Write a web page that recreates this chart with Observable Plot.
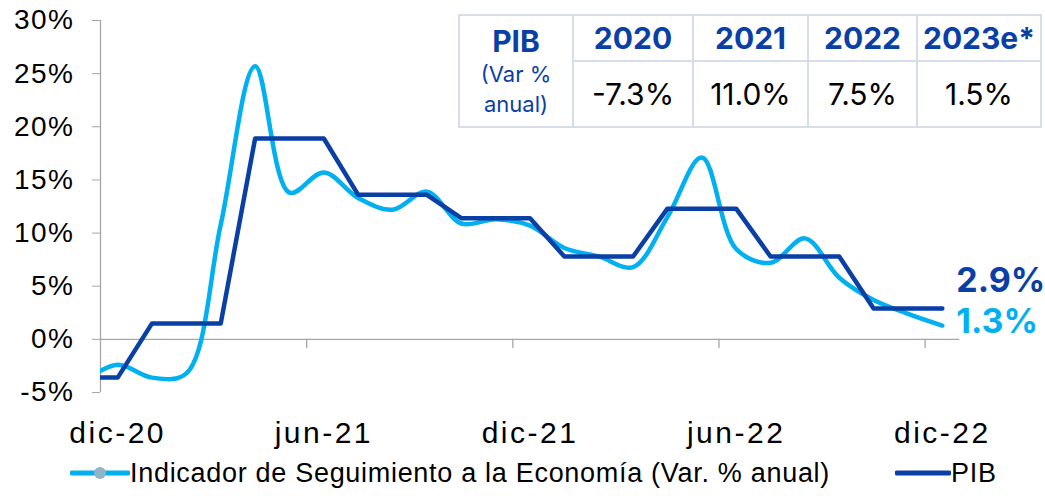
<!DOCTYPE html>
<html>
<head>
<meta charset="utf-8">
<script src="https://cdn.jsdelivr.net/npm/d3@7"></script>
<script src="https://cdn.jsdelivr.net/npm/@observablehq/plot@0.6"></script>
<style>
  html, body { margin: 0; padding: 0; background: #fff; }
  #wrap { position: relative; width: 1045px; height: 496px; overflow: hidden; font-family: "Liberation Sans", Arial, sans-serif; }
  #chart { position: absolute; left: 0; top: 0; }
  #chart g[aria-label="y-axis tick label"] text { letter-spacing: 1.5px; }
  #chart g[aria-label="x-axis tick label"] text { letter-spacing: 2.5px; }
  #tbl { position: absolute; left: 458px; top: 14px; border-collapse: collapse; font-family: Inter, "Noto Sans", sans-serif; background: #fff; }
  #tbl td { border: 2px solid #d6dde8; text-align: center; padding: 0; }
  #legend { position: absolute; left: 0; top: 450px; width: 1045px; height: 46px; font-family: "Liberation Sans", Arial, sans-serif; font-size: 27px; letter-spacing: 0.7px; color: #000; }
  .lg { position: absolute; top: 0; height: 46px; display: flex; align-items: center; white-space: nowrap; }
</style>
</head>
<body>
<div id="wrap">
  <div id="chart"></div>
  <div id="table-holder"></div>
  <div id="legend"></div>
</div>
<script>
// Months (index -1 = nov-20, clipped before the axis start)
const months = ["nov-20","dic-20","ene-21","feb-21","mar-21","abr-21","may-21","jun-21","jul-21","ago-21","sep-21","oct-21","nov-21","dic-21",
                "ene-22","feb-22","mar-22","abr-22","may-22","jun-22","jul-22","ago-22","sep-22","oct-22","nov-22","dic-22"];
// Indicador de Seguimiento a la Economía (Var. % anual)
const ise = [-3.9, -2.4, -3.6, -3.2, 10.8, 25.7, 13.8, 15.7, 13.3, 12.2, 13.9, 10.9, 11.3, 10.7,
             8.6, 7.8, 6.8, 11.5, 17.1, 8.5, 7.2, 9.5, 5.8, 3.7, 2.4, 1.3];
// PIB (quarterly value repeated per month)
const pib = [-3.6, -3.6, 1.5, 1.5, 1.5, 18.9, 18.9, 18.9, 13.6, 13.6, 13.6, 11.4, 11.4, 11.4,
             7.8, 7.8, 7.8, 12.3, 12.3, 12.3, 7.8, 7.8, 7.8, 2.9, 2.9, 2.9];
const xTickLabels = ["dic-20","jun-21","dic-21","jun-22","dic-22"];
const yTicks = [-5, 0, 5, 10, 15, 20, 25, 30];
// Table
const tableYears = ["2020","2021","2022","2023e*"];
const tableValues = ["-7.3%","11.0%","7.5%","1.5%"];

const LIGHT = "#00b0f0";
const DARK = "#0a3fa6";
const AXIS = "#a6a6a6";

const rows = months.map((m, k) => ({i: k - 1, m, ise: ise[k], pib: pib[k]}));
const labelIdx = xTickLabels.map(l => months.indexOf(l) - 1);
const tickPos = labelIdx.map(i => i - 0.5);
const last = rows[rows.length - 1];

const plot = Plot.plot({
  width: 1045,
  height: 450,
  marginLeft: 100,
  marginRight: 86,
  marginTop: 20,
  marginBottom: 58,
  x: {type: "linear", domain: [-0.5, 24.5], axis: null},
  y: {domain: [-5, 30], axis: null},
  style: {fontFamily: "'Liberation Sans', Arial, sans-serif", fontSize: "28px", background: "white", color: "#000"},
  marks: [
    Plot.ruleY([0], {stroke: AXIS, strokeWidth: 1.3}),
    Plot.ruleX([-0.5], {y1: -5, y2: 30, stroke: AXIS, strokeWidth: 1.3}),
    Plot.ruleX(tickPos.slice(1), {y1: 0, y2: -0.85, stroke: AXIS, strokeWidth: 1.3}),
    Plot.axisY({ticks: yTicks, tickSize: 8, tickPadding: 18, tickFormat: d => d + "%", stroke: AXIS, fill: "#000", fontSize: 28, label: null}),
    Plot.axisX({ticks: labelIdx, tickSize: 0, tickPadding: 29, tickFormat: i => months[i + 1], fill: "#000", fontSize: 30, label: null}),
    Plot.line(rows, {x: "i", y: "ise", curve: "catmull-rom", stroke: LIGHT, strokeWidth: 4.5, clip: true}),
    Plot.line(rows, {x: "i", y: "pib", stroke: DARK, strokeWidth: 4.5, clip: true}),
    Plot.text([last], {x: "i", y: "pib", text: d => d.pib.toFixed(1) + "%", dx: 14, dy: -27, textAnchor: "start",
      fill: DARK, fontWeight: "bold", fontSize: 34, fontFamily: "Inter, 'Noto Sans', sans-serif"}),
    Plot.text([last], {x: "i", y: "ise", text: d => d.ise.toFixed(1) + "%", dx: 14, dy: -3, textAnchor: "start",
      fill: LIGHT, fontWeight: "bold", fontSize: 34, fontFamily: "Inter, 'Noto Sans', sans-serif"})
  ]
});
document.getElementById("chart").appendChild(plot);

// Table overlay
const colW = [112, 118, 113, 107, 122];
const t = document.createElement("table");
t.id = "tbl";
const r1 = document.createElement("tr");
r1.style.height = "46px";
const c0 = document.createElement("td");
c0.rowSpan = 2;
c0.style.width = colW[0] + "px";
c0.style.color = DARK;
c0.innerHTML = '<div style="font-weight:700;font-size:30px;line-height:36px">PIB</div>' +
  '<div style="font-size:22px;line-height:30px">(Var %</div>' +
  '<div style="font-size:22px;line-height:30px">anual)</div>';
r1.appendChild(c0);
tableYears.forEach((y, k) => {
  const c = document.createElement("td");
  c.style.width = colW[k + 1] + "px";
  c.style.color = DARK;
  c.style.fontWeight = "700";
  c.style.fontSize = "30px";
  c.textContent = y;
  r1.appendChild(c);
});
const r2 = document.createElement("tr");
r2.style.height = "66px";
tableValues.forEach(v => {
  const c = document.createElement("td");
  c.style.color = "#000";
  c.style.fontSize = "30px";
  c.textContent = v;
  r2.appendChild(c);
});
t.appendChild(r1);
t.appendChild(r2);
document.getElementById("table-holder").appendChild(t);

// Legend
const legend = document.getElementById("legend");
legend.innerHTML =
  '<div class="lg" style="left:70px"><svg width="60" height="20"><line x1="2" y1="10" x2="58" y2="10" stroke="' + LIGHT + '" stroke-width="5" stroke-linecap="round"/><circle cx="30" cy="10" r="6" fill="#93b3c6"/></svg>' +
  '<span>Indicador de Seguimiento a la Economía (Var. % anual)</span></div>' +
  '<div class="lg" style="left:895px"><svg width="56" height="20"><line x1="2" y1="10" x2="54" y2="10" stroke="' + DARK + '" stroke-width="5" stroke-linecap="round"/></svg>' +
  '<span>PIB</span></div>';
</script>
</body>
</html>
